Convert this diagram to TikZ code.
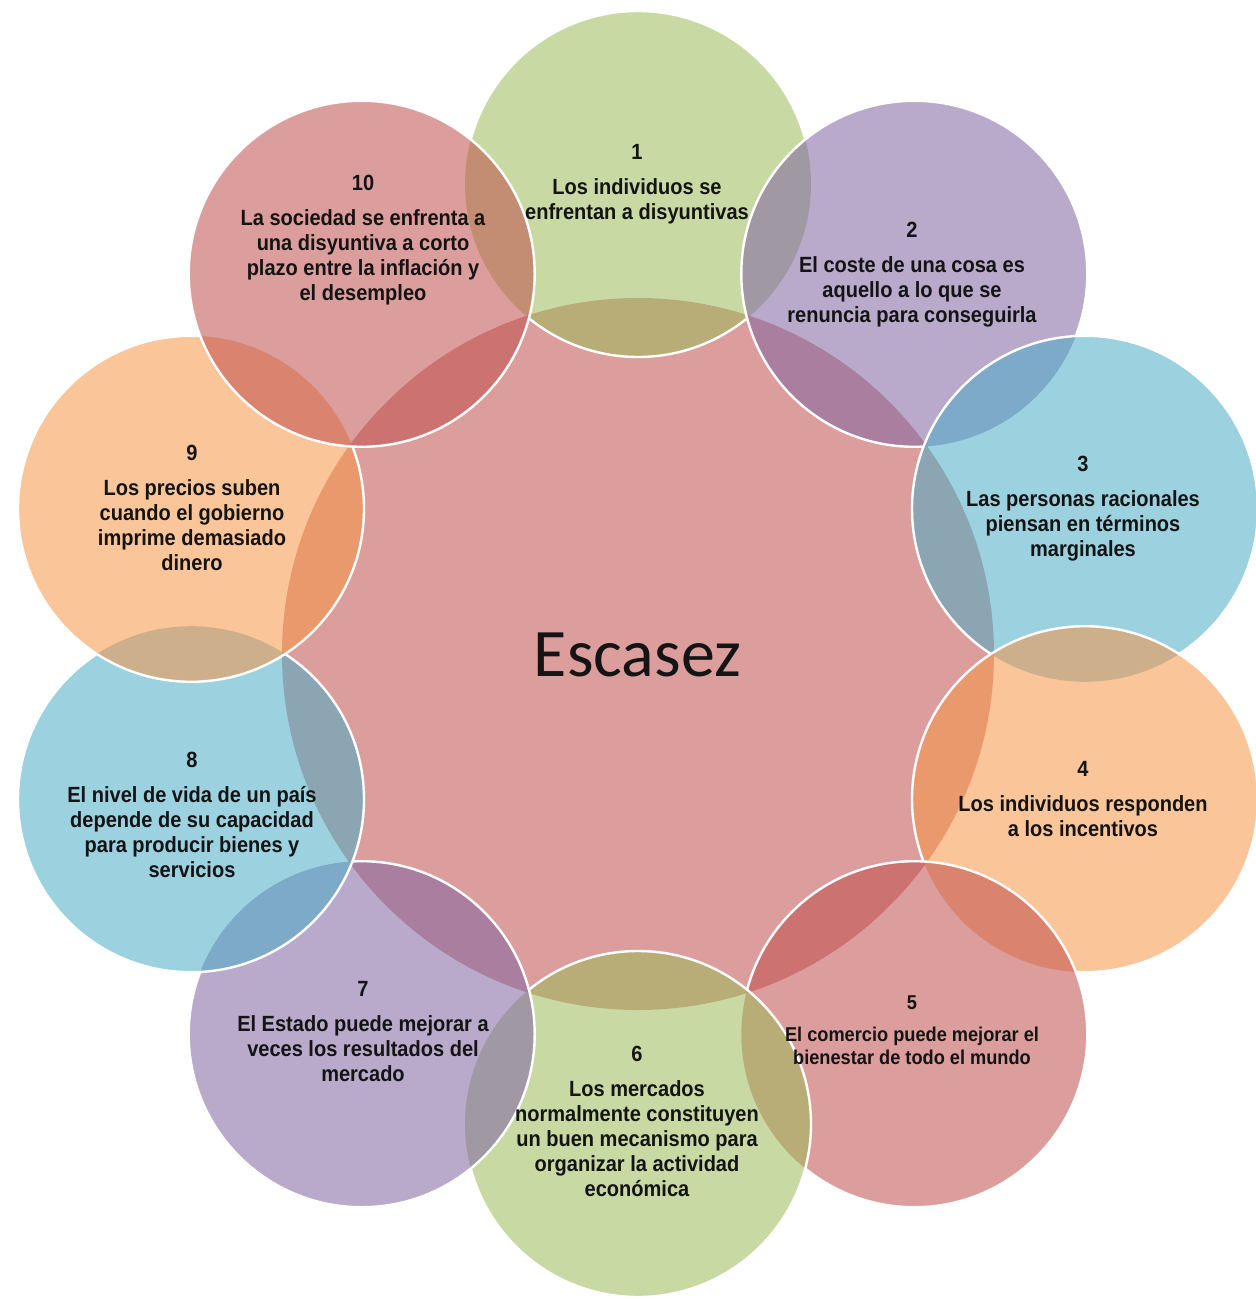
\documentclass[tikz,border=0pt]{standalone}
\usepackage{fontspec}
\setmainfont{Liberation Sans}
\newfontfamily\lblfont[FakeStretch=0.91]{Liberation Sans}
\newfontfamily\escfont{Carlito}
\definecolor{cgreen}{HTML}{9BBB59}
\definecolor{cpurple}{HTML}{8064A2}
\definecolor{cblue}{HTML}{4BACC6}
\definecolor{corange}{HTML}{F79646}
\definecolor{cred}{HTML}{C0504D}
\begin{document}
\begin{tikzpicture}[x=0.5pt,y=-0.5pt,
  disc/.style={circle, inner sep=0pt, outer sep=0pt, minimum size=173pt, fill opacity=0.55},
  rim/.style={draw=white, line width=1.2pt},
  lbl/.style={align=center, text=black!92, inner sep=0pt,
    font=\lblfont\bfseries\fontsize{11}{12.5}\selectfont},
  lblsmall/.style={align=center, text=black!92, inner sep=0pt,
    font=\lblfont\bfseries\fontsize{10}{11.5}\selectfont}
]
\useasboundingbox (0,0) rectangle (1255,1299);
\fill[white] (0,0) rectangle (1255,1299);

% central circle
\node[disc, minimum size=356pt, fill=cred] (core) at (638,654) {};

% outer circles (drawn in order 1..10)
\node[disc, fill=cgreen]  (c1)  at (638,184) {};
\node[disc, fill=cpurple] (c2)  at (914.3,273.8) {};
\node[disc, fill=cblue]   (c3)  at (1085,508.8) {};
\node[disc, fill=corange] (c4)  at (1085,799.2) {};
\node[disc, fill=cred]    (c5)  at (914.3,1034.2) {};
\node[disc, fill=cgreen]  (c6)  at (638,1124) {};
\node[disc, fill=cpurple] (c7)  at (361.7,1034.2) {};
\node[disc, fill=cblue]   (c8)  at (191,799.2) {};
\node[disc, fill=corange] (c9)  at (191,508.8) {};
\node[disc, fill=cred]    (c10) at (361.7,273.8) {};

% white rims, hidden where a later circle lies on top
\begin{scope}[even odd rule]
  \clip (-20,-20) rectangle (1275,1319) (c2.center) circle[radius=86.5pt];
  \begin{scope}[even odd rule]
    \clip (-20,-20) rectangle (1275,1319) (c10.center) circle[radius=86.5pt];
    \draw[rim] (c1.center) circle[radius=86.5pt];
  \end{scope}
\end{scope}
\begin{scope}[even odd rule]
  \clip (-20,-20) rectangle (1275,1319) (c3.center) circle[radius=86.5pt];
  \draw[rim] (c2.center) circle[radius=86.5pt];
\end{scope}
\begin{scope}[even odd rule]
  \clip (-20,-20) rectangle (1275,1319) (c4.center) circle[radius=86.5pt];
  \draw[rim] (c3.center) circle[radius=86.5pt];
\end{scope}
\begin{scope}[even odd rule]
  \clip (-20,-20) rectangle (1275,1319) (c5.center) circle[radius=86.5pt];
  \draw[rim] (c4.center) circle[radius=86.5pt];
\end{scope}
\begin{scope}[even odd rule]
  \clip (-20,-20) rectangle (1275,1319) (c6.center) circle[radius=86.5pt];
  \draw[rim] (c5.center) circle[radius=86.5pt];
\end{scope}
\begin{scope}[even odd rule]
  \clip (-20,-20) rectangle (1275,1319) (c7.center) circle[radius=86.5pt];
  \draw[rim] (c6.center) circle[radius=86.5pt];
\end{scope}
\begin{scope}[even odd rule]
  \clip (-20,-20) rectangle (1275,1319) (c8.center) circle[radius=86.5pt];
  \draw[rim] (c7.center) circle[radius=86.5pt];
\end{scope}
\begin{scope}[even odd rule]
  \clip (-20,-20) rectangle (1275,1319) (c9.center) circle[radius=86.5pt];
  \draw[rim] (c8.center) circle[radius=86.5pt];
\end{scope}
\begin{scope}[even odd rule]
  \clip (-20,-20) rectangle (1275,1319) (c10.center) circle[radius=86.5pt];
  \draw[rim] (c9.center) circle[radius=86.5pt];
\end{scope}
\draw[rim] (c10.center) circle[radius=86.5pt];

% texts
\node[font=\escfont\fontsize{34}{40}\selectfont, text=black!92, inner sep=0pt] (esc) at (637.5,655) {Escasez};

\node[lbl] (t1) at (637,184.5) {1\\[5pt]Los individuos se\\enfrentan a disyuntivas};
\node[lbl] (t2) at (912,274.5) {2\\[5pt]El coste de una cosa es\\aquello a lo que se\\renuncia para conseguirla};
\node[lbl] (t3) at (1083,509) {3\\[5pt]Las personas racionales\\piensan en términos\\marginales};
\node[lbl] (t4) at (1083,799) {4\\[5pt]Los individuos responden\\a los incentivos};
\node[lblsmall] (t5) at (912,1030.5) {5\\[4.5pt]El comercio puede mejorar el\\bienestar de todo el mundo};
\node[lbl] (t6) at (637,1121.5) {6\\[5pt]Los mercados\\normalmente constituyen\\un buen mecanismo para\\organizar la actividad\\económica};
\node[lbl] (t7) at (363,1031.5) {7\\[5pt]El Estado puede mejorar a\\veces los resultados del\\mercado};
\node[lbl] (t8) at (192,815) {8\\[5pt]El nivel de vida de un país\\depende de su capacidad\\para producir bienes y\\servicios};
\node[lbl] (t9) at (192,507.5) {9\\[5pt]Los precios suben\\cuando el gobierno\\imprime demasiado\\dinero};
\node[lbl] (t10) at (363,240.5) {10\\[5pt]La sociedad se enfrenta a\\una disyuntiva a corto\\plazo entre la inflación y\\el desempleo};
\end{tikzpicture}
\end{document}
